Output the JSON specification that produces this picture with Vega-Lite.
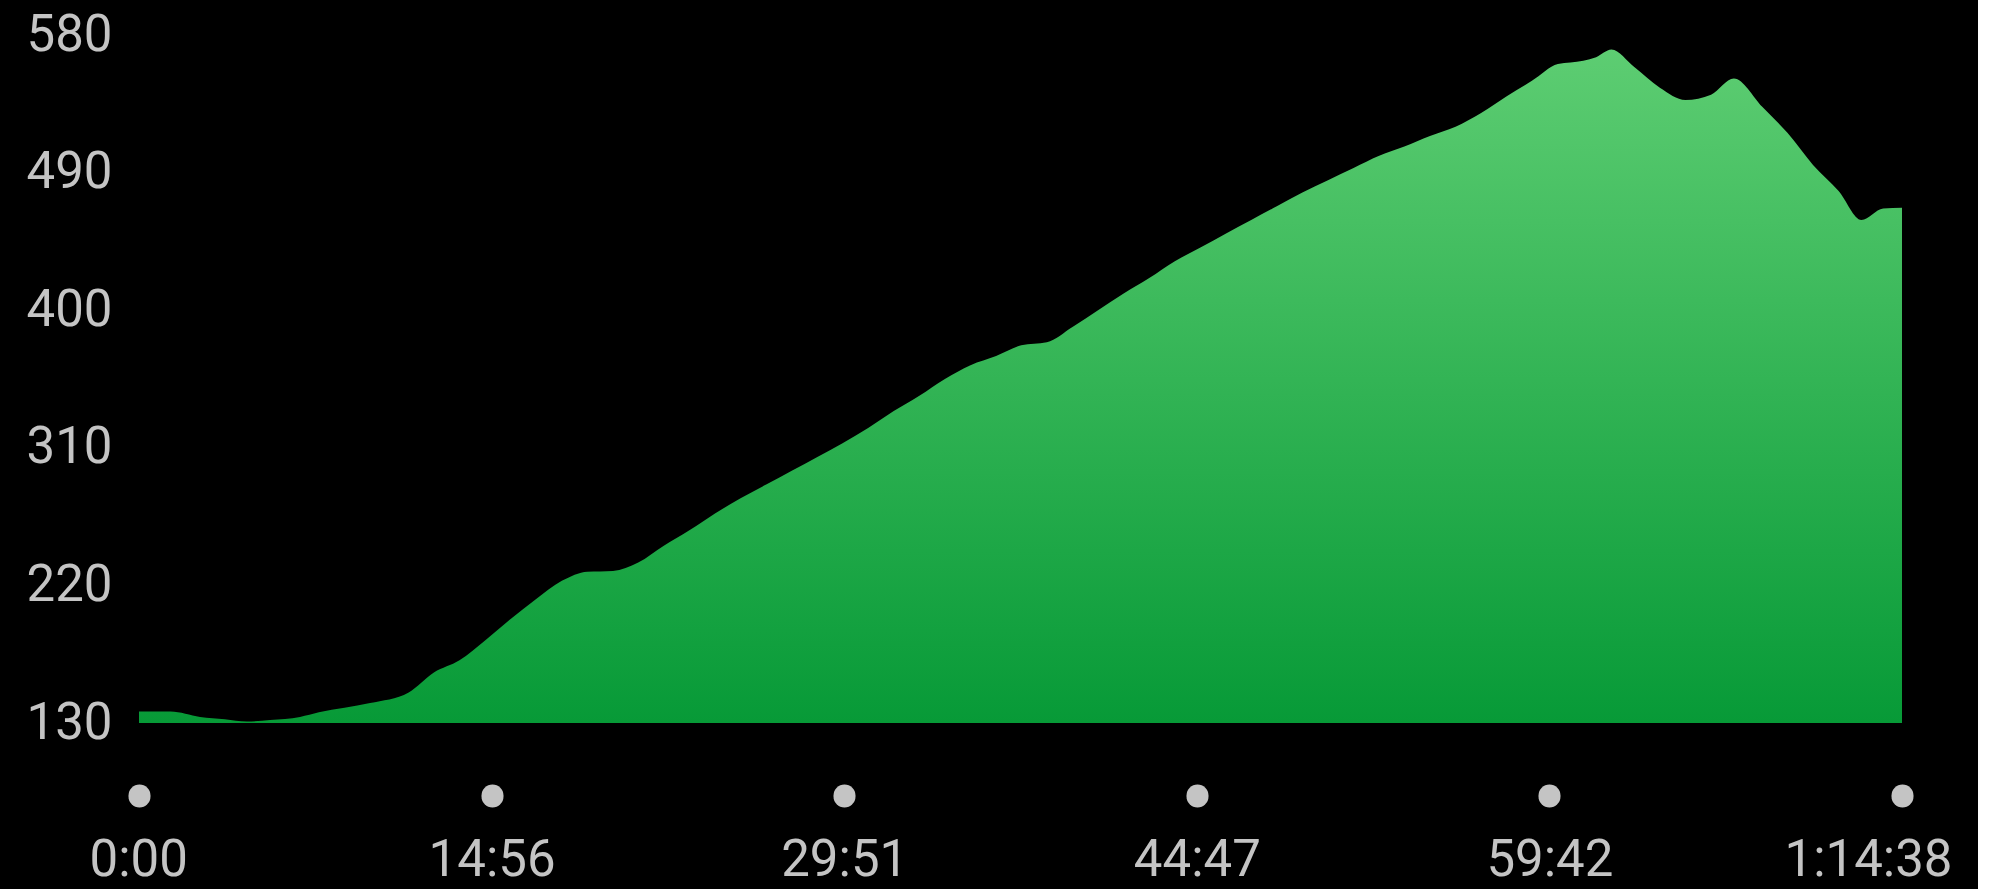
{
  "$schema": "https://vega.github.io/schema/vega-lite/v6.json",
  "autosize": {"type": "none"},
  "width": 1763,
  "height": 688,
  "padding": {"left": 139, "top": 35, "right": 76, "bottom": 166},
  "background": "#000000",
  "config": {
    "view": {"stroke": null},
    "font": "Roboto",
    "axis": {"labelFont": "Roboto", "labelFontSize": 51, "labelColor": "#c4c4c4", "grid": false, "domain": false, "labelOverlap": false, "labelBound": false}
  },
  "data": {
    "values": [
      {"t": 0, "v": 137.5}, {"t": 80, "v": 137.5}, {"t": 155, "v": 134}, {"t": 218, "v": 132.5},
      {"t": 274, "v": 131}, {"t": 333, "v": 132}, {"t": 409, "v": 134}, {"t": 457, "v": 137},
      {"t": 587, "v": 143}, {"t": 685, "v": 150}, {"t": 749, "v": 163}, {"t": 814, "v": 171},
      {"t": 879, "v": 184}, {"t": 944, "v": 198}, {"t": 1008, "v": 211}, {"t": 1074, "v": 223},
      {"t": 1139, "v": 229}, {"t": 1204, "v": 229.5}, {"t": 1268, "v": 235}, {"t": 1333, "v": 246},
      {"t": 1398, "v": 256}, {"t": 1463, "v": 267}, {"t": 1528, "v": 277}, {"t": 1593, "v": 286},
      {"t": 1658, "v": 295}, {"t": 1723, "v": 304}, {"t": 1787, "v": 313}, {"t": 1852, "v": 323},
      {"t": 1917, "v": 334}, {"t": 1982, "v": 344}, {"t": 2047, "v": 355}, {"t": 2112, "v": 364},
      {"t": 2177, "v": 370}, {"t": 2241, "v": 377}, {"t": 2306, "v": 379}, {"t": 2371, "v": 389},
      {"t": 2436, "v": 400}, {"t": 2501, "v": 411}, {"t": 2566, "v": 421}, {"t": 2631, "v": 432},
      {"t": 2696, "v": 441}, {"t": 2760, "v": 450}, {"t": 2825, "v": 459}, {"t": 2890, "v": 468},
      {"t": 2955, "v": 477}, {"t": 3020, "v": 485}, {"t": 3085, "v": 493}, {"t": 3150, "v": 501},
      {"t": 3214, "v": 507}, {"t": 3279, "v": 514}, {"t": 3344, "v": 520}, {"t": 3409, "v": 529},
      {"t": 3474, "v": 540}, {"t": 3538, "v": 550}, {"t": 3604, "v": 561}, {"t": 3636, "v": 562},
      {"t": 3701, "v": 565.5}, {"t": 3740, "v": 570.5}, {"t": 3798, "v": 559}, {"t": 3863, "v": 545.5},
      {"t": 3928, "v": 537.5}, {"t": 3993, "v": 541}, {"t": 4051, "v": 551.5}, {"t": 4123, "v": 533},
      {"t": 4187, "v": 516}, {"t": 4252, "v": 495}, {"t": 4317, "v": 478}, {"t": 4375, "v": 459},
      {"t": 4430, "v": 466.5}, {"t": 4478, "v": 467}
    ]
  },
  "mark": {
    "type": "area",
    "interpolate": "monotone",
    "fill": {
      "gradient": "linear", "x1": 0, "y1": 0, "x2": 0, "y2": 1,
      "stops": [{"offset": 0, "color": "#5dcd72"}, {"offset": 1, "color": "#079a37"}]
    }
  },
  "encoding": {
    "x": {
      "field": "t", "type": "quantitative",
      "scale": {"domain": [0, 4478], "nice": false, "zero": false},
      "axis": {
        "title": null,
        "values": [0, 895.6, 1791.2, 2686.8, 3582.4, 4478],
        "labelExpr": "(round(datum.value) >= 3600 ? floor(round(datum.value)/3600) + ':' + pad(floor((round(datum.value)%3600)/60), 2, '0', 'left') : floor(round(datum.value)/60)) + ':' + pad(round(datum.value)%60, 2, '0', 'left')",
        "offset": 72,
        "ticks": true,
        "tickSize": 1,
        "tickWidth": 22,
        "tickCap": "round",
        "tickColor": "#c4c4c4",
        "labelBaseline": "middle",
        "labelPadding": 64,
        "labelFlush": true,
        "labelFlushOffset": 50
      }
    },
    "y": {
      "field": "v", "type": "quantitative",
      "scale": {"domain": [130, 580], "nice": false, "zero": false},
      "axis": {
        "title": null,
        "values": [130, 220, 310, 400, 490, 580],
        "ticks": false,
        "tickSize": 0,
        "labelBaseline": "middle",
        "labelPadding": 27
      }
    },
    "y2": {"datum": 130}
  }
}
